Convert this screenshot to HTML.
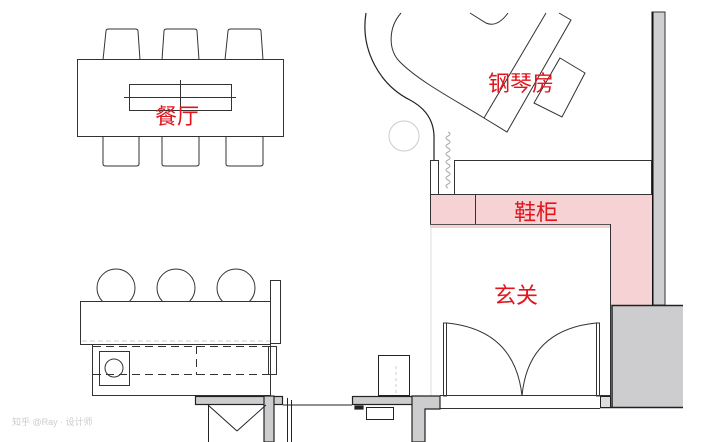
<!DOCTYPE html>
<html><head><meta charset="utf-8"><style>
html,body{margin:0;padding:0;background:#fff;}
svg{display:block;}
text{font-family:"Liberation Sans","Noto Sans CJK SC",sans-serif;fill:#e0161e;}
</style></head><body>
<svg width="720" height="442" viewBox="0 0 720 442" xmlns="http://www.w3.org/2000/svg">
<g fill="none" stroke="#333" stroke-width="1">
<!-- dining chairs -->
<path d="M103,60 L106,31 Q106,29 109,29 L135,29 Q138,29 138,31 L140,60"/>
<path d="M162,60 L164,31 Q164,29 167,29 L194,29 Q197,29 197,31 L199,60"/>
<path d="M225,60 L228,31 Q228,29 231,29 L258,29 Q261,29 261,31 L263,60"/>
<path d="M103,136 L103,164 Q103,166 106,166 L136,166 Q139,166 139,164 L139,136"/>
<path d="M162,136 L162,164 Q162,166 165,166 L196,166 Q199,166 199,164 L199,136"/>
<path d="M226,136 L226,164 Q226,166 229,166 L260,166 Q263,166 263,164 L263,136"/>
<rect x="77.5" y="59.5" width="206" height="77"/>
<rect x="129.5" y="84.5" width="102" height="26"/>
<line x1="124" y1="97.5" x2="236" y2="97.5"/>
<line x1="180.5" y1="80" x2="180.5" y2="116"/>
</g>
<text x="155" y="124" font-size="22">餐厅</text>

<!-- piano room -->
<g fill="none" stroke="#222" stroke-width="1.2">
<path d="M366,13 C360,50 380,85 410,100 C425,108 435,120 434,140 L434,160"/>
</g>
<g fill="none" stroke="#333" stroke-width="1">
<path d="M401,13 C388,28 388,50 400,62 C420,82 455,100 484,118 L507,132 L571,20 L559,13"/>
<path d="M546,13 L484,118"/>
<path d="M470,13 L486,23 Q497,28 508,13"/>
<path d="M560,58 L585,73 L562,117 L534,103 Z"/>
<circle cx="404" cy="136" r="15" stroke="#ccc"/>
<path d="M448,132 q4,2 0,4 q-4,2 0,4 q4,2 0,4 q-4,2 0,4 q4,2 0,4 q-4,2 0,4 q4,2 0,4 q-4,2 0,4 q4,2 0,4 q-4,2 0,4 q4,2 0,4 q-4,2 0,4 q4,2 0,4 q-4,2 0,4" stroke="#aaa"/>
</g>
<text x="488" y="91" font-size="22">钢琴房</text>

<!-- right wall -->
<rect x="652" y="12" width="13" height="293" fill="#cfcfd1" stroke="#333"/>
<line x1="652.5" y1="12" x2="652.5" y2="305" stroke="#111" stroke-width="2"/>
<!-- shelf -->
<rect x="454.5" y="160.5" width="197" height="34" fill="#fff" stroke="#333"/>
<rect x="430.5" y="160.5" width="8" height="34" fill="#fff" stroke="#333"/>
<!-- pink shoe cabinet -->
<path d="M430,195 L652,195 L652,305 L611,305 L611,228 L430,228 Z" fill="#f6d2d4"/>
<line x1="430" y1="194.5" x2="652" y2="194.5" stroke="#333"/>
<line x1="475.5" y1="195" x2="475.5" y2="224" stroke="#333"/>
<line x1="430" y1="224.5" x2="610" y2="224.5" stroke="#555"/>
<line x1="430.5" y1="195" x2="430.5" y2="224" stroke="#333"/>
<line x1="610.5" y1="224" x2="610.5" y2="396" stroke="#333"/>
<line x1="431" y1="228" x2="431" y2="396" stroke="#ddd"/>
<text x="514" y="220" font-size="22">鞋柜</text>
<text x="494" y="303" font-size="22">玄关</text>

<!-- gray block -->
<rect x="612" y="305" width="71" height="103" fill="#cdcdd0"/>
<path d="M683,305.5 L612,305.5 L612,408 M600,407.5 L683,407.5" fill="none" stroke="#222" stroke-width="1.5"/>
<rect x="600.5" y="396.5" width="10" height="11" fill="#ddd" stroke="#222"/>

<!-- doors -->
<g fill="none" stroke="#333" stroke-width="1">
<rect x="443.5" y="323" width="3" height="73"/>
<rect x="596.5" y="323" width="3" height="73"/>
<path d="M447,323 Q515,330 522,396"/>
<path d="M596,323 Q528,330 522,396"/>
<line x1="440" y1="395.5" x2="611" y2="395.5"/>
<line x1="440" y1="408.5" x2="600" y2="408.5"/>
</g>

<!-- kitchen island -->
<g fill="none" stroke="#333" stroke-width="1">
<circle cx="116" cy="288" r="19"/>
<circle cx="176" cy="288" r="19"/>
<circle cx="236" cy="288" r="19"/>
<rect x="80.5" y="301.5" width="190" height="43" fill="#fff"/>
<rect x="270.5" y="280.5" width="10" height="63" fill="#fff"/>
<path d="M92.5,345 L92.5,395.5 L270.5,395.5 L270.5,345"/>
<line x1="82" y1="341" x2="270" y2="341" stroke="#ccc" stroke-dasharray="5,3"/>
<line x1="93" y1="346.5" x2="270" y2="346.5" stroke-dasharray="8,5"/>
<line x1="93" y1="374.5" x2="270" y2="374.5" stroke-dasharray="8,5"/>
<line x1="196.5" y1="346" x2="196.5" y2="375" stroke-dasharray="8,5"/>
<rect x="268.5" y="346.5" width="8" height="28"/>
<rect x="99.5" y="351.5" width="30" height="34"/>
<circle cx="114" cy="368" r="9"/>
</g>

<!-- bottom walls -->
<g stroke="#222" stroke-width="1.2">
<rect x="195.5" y="396.5" width="87" height="8" fill="#cdcdd0"/>
<rect x="264" y="396" width="10" height="46" fill="#cdcdd0"/>
<line x1="287.5" y1="398" x2="287.5" y2="442" stroke-width="1"/>
<line x1="291.5" y1="400" x2="291.5" y2="442" stroke-width="1"/>
<line x1="283" y1="405" x2="352" y2="405" stroke-width="1"/>
<line x1="208" y1="405" x2="237" y2="431" stroke-width="1"/>
<line x1="266" y1="405" x2="237" y2="431" stroke-width="1"/>
<line x1="208.5" y1="405" x2="208.5" y2="442" stroke-width="1"/>
<rect x="352.5" y="396.5" width="60" height="8" fill="#cdcdd0"/>
<path d="M412,396 L440,396 L440,409 L425,409 L425,442 L412,442 Z" fill="#cdcdd0"/>
<rect x="378.5" y="355.5" width="31" height="40" fill="#fff" stroke-width="1"/>
<rect x="366.5" y="407.5" width="27" height="12" fill="#fff" stroke-width="1"/>
<rect x="355" y="406" width="8" height="3" fill="#222"/>
</g>
<line x1="396" y1="366" x2="396" y2="393" stroke="#ccc" stroke-dasharray="3,3"/>
<text x="12" y="425" font-size="9" style="fill:#ccc">知乎 @Ray · 设计师</text>
</svg>
</body></html>
